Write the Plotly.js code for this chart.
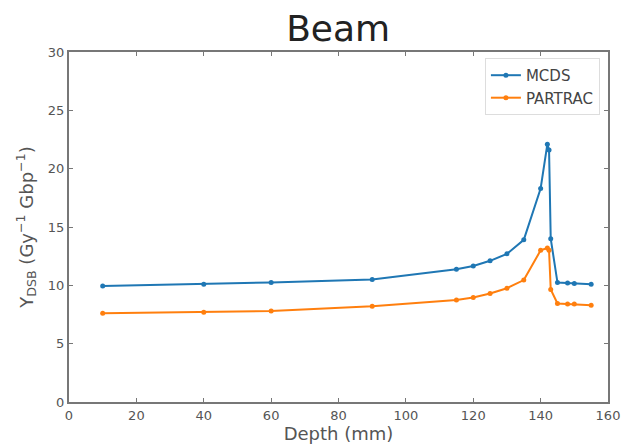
<!DOCTYPE html>
<html>
<head>
<meta charset="utf-8">
<script src="https://cdn.plot.ly/plotly-3.0.1.min.js"></script>
<style>html,body{margin:0;padding:0;background:#fff;}#chart{width:625px;height:447px;}</style>
</head>
<body>
<div id="chart"></div>
<script>
const depth = [10, 40, 60, 90, 115, 120, 125, 130, 135, 140, 142, 142.5, 143, 145, 148, 150, 155];
const mcds = [9.95, 10.1, 10.24, 10.5, 11.38, 11.66, 12.1, 12.7, 13.9, 18.3, 22.1, 21.6, 14.0, 10.24, 10.2, 10.15, 10.1];
const partrac = [7.6, 7.7, 7.8, 8.2, 8.75, 8.95, 9.3, 9.75, 10.45, 13.0, 13.2, 13.0, 9.65, 8.45, 8.4, 8.4, 8.3];
const seriesNames = ["MCDS", "PARTRAC"];
const xTicks = [0, 20, 40, 60, 80, 100, 120, 140, 160];
const yTicks = [0, 5, 10, 15, 20, 25, 30];

const axisCommon = {
  showgrid: false, zeroline: false, showline: true, linecolor: '#777', linewidth: 2,
  mirror: 'ticks', ticks: 'inside', ticklen: 4, tickcolor: '#777', tickwidth: 1,
  tickfont: {family: 'DejaVu Sans, sans-serif', size: 13, color: '#555'}
};

const traces = [
  {x: depth, y: mcds, name: seriesNames[0], mode: 'lines+markers', type: 'scatter',
   line: {color: '#1f77b4', width: 2}, marker: {color: '#1f77b4', size: 5}},
  {x: depth, y: partrac, name: seriesNames[1], mode: 'lines+markers', type: 'scatter',
   line: {color: '#ff7f0e', width: 2}, marker: {color: '#ff7f0e', size: 5}}
];

const layout = {
  width: 625, height: 447,
  margin: {l: 69, r: 17, t: 52, b: 45},
  paper_bgcolor: '#fff', plot_bgcolor: '#fff',
  title: {text: 'Beam', font: {family: 'DejaVu Sans, sans-serif', size: 36, color: '#222'}, x: 0.541, xanchor: 'center', y: 0.965, yanchor: 'top'},
  xaxis: Object.assign({}, axisCommon, {range: [0, 160], tickvals: xTicks, ticktext: xTicks.map(String),
    title: {text: 'Depth (mm)', font: {family: 'DejaVu Sans, sans-serif', size: 18, color: '#555'}, standoff: 4}}),
  yaxis: Object.assign({}, axisCommon, {range: [0, 30], tickvals: yTicks, ticktext: yTicks.map(String),
    title: {text: 'Y<sub>DSB</sub> (Gy<sup>−1</sup> Gbp<sup>−1</sup>)', font: {family: 'DejaVu Sans, sans-serif', size: 18, color: '#555'}, standoff: 10}}),
  legend: {x: 0.985, y: 0.983, xanchor: 'right', yanchor: 'top', bgcolor: '#fff', bordercolor: '#ddd', borderwidth: 1,
    font: {family: 'DejaVu Sans, sans-serif', size: 15, color: '#444'}},
  showlegend: true
};

Plotly.newPlot('chart', traces, layout, {displayModeBar: false, staticPlot: true});
</script>
</body>
</html>
